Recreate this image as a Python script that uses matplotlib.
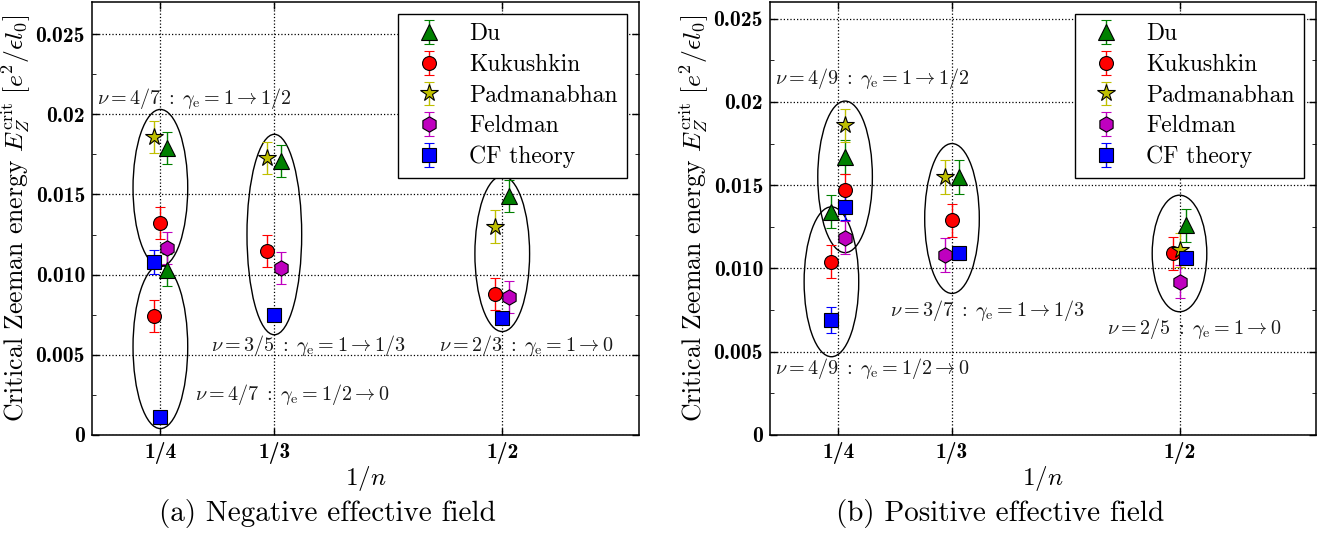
import matplotlib
matplotlib.use("Agg")
import matplotlib.pyplot as plt
from matplotlib.patches import Ellipse
import numpy as np

plt.rcParams['font.family'] = 'serif'
plt.rcParams['font.serif'] = ['cmr10']
plt.rcParams['mathtext.fontset'] = 'cm'
plt.rcParams['axes.unicode_minus'] = False

# ---- data: (a) negative effective field ----
neg_du_x = [1/4, 1/4, 1/3, 1/2]
neg_du_dx = [0.005, 0.005, 0.005, 0.005]
neg_du_y = [0.0179, 0.0103, 0.0171, 0.0149]
neg_du_err = [0.001, 0.001, 0.001, 0.001]

neg_ku_x = [1/4, 1/4, 1/3, 1/2]
neg_ku_dx = [0.0, -0.005, -0.005, -0.005]
neg_ku_y = [0.0132, 0.0074, 0.0115, 0.0088]
neg_ku_err = [0.001, 0.001, 0.001, 0.001]

neg_pa_x = [1/4, 1/3, 1/2]
neg_pa_dx = [-0.005, -0.005, -0.005]
neg_pa_y = [0.0186, 0.0173, 0.0130]
neg_pa_err = [0.001, 0.001, 0.001]

neg_fe_x = [1/4, 1/3, 1/2]
neg_fe_dx = [0.005, 0.005, 0.005]
neg_fe_y = [0.01165, 0.0104, 0.0086]
neg_fe_err = [0.001, 0.001, 0.001]

neg_cf_x = [1/4, 1/4, 1/3, 1/2]
neg_cf_dx = [-0.005, 0.0, 0.0, 0.0]
neg_cf_y = [0.0108, 0.0011, 0.0075, 0.0073]
neg_cf_err = [0.00075, 0.0004, 0.0002, 0.0002]

# ---- data: (b) positive effective field ----
pos_du_x = [1/4, 1/4, 1/3, 1/2]
pos_du_dx = [0.005, -0.005, 0.005, 0.005]
pos_du_y = [0.0167, 0.0134, 0.0155, 0.0126]
pos_du_err = [0.001, 0.001, 0.001, 0.001]

pos_ku_x = [1/4, 1/4, 1/3, 1/2]
pos_ku_dx = [0.005, -0.005, 0.0, -0.005]
pos_ku_y = [0.0147, 0.0104, 0.0129, 0.0109]
pos_ku_err = [0.001, 0.001, 0.001, 0.001]

pos_pa_x = [1/4, 1/3, 1/2]
pos_pa_dx = [0.005, -0.005, 0.0]
pos_pa_y = [0.0186, 0.0155, 0.0111]
pos_pa_err = [0.001, 0.001, 0.001]

pos_fe_x = [1/4, 1/3, 1/2]
pos_fe_dx = [0.005, -0.005, 0.0]
pos_fe_y = [0.01185, 0.0108, 0.0092]
pos_fe_err = [0.001, 0.001, 0.001]

pos_cf_x = [1/4, 1/4, 1/3, 1/2]
pos_cf_dx = [0.005, -0.005, 0.005, 0.005]
pos_cf_y = [0.0137, 0.0069, 0.0109, 0.0106]
pos_cf_err = [0.0008, 0.0008, 0.0004, 0.0003]

# ellipses (x, y, w, h) and notes
neg_ellipses = [(0.25, 0.0154, 0.04, 0.0098), (0.25, 0.0055, 0.04, 0.0102),
                (1/3, 0.0125, 0.04, 0.0125), (0.5, 0.0113, 0.04, 0.0097)]
pos_ellipses = [(0.255, 0.0155, 0.04, 0.0091), (0.245, 0.0092, 0.04, 0.0090),
                (1/3, 0.0130, 0.04, 0.0090), (0.5, 0.0109, 0.04, 0.0070)]

neg_notes = [(0.204, 0.0210, r'$\nu=4/7\;:\;\gamma_{\rm e}=1\rightarrow 1/2$'),
             (0.287, 0.0056, r'$\nu=3/5\;:\;\gamma_{\rm e}=1\rightarrow 1/3$'),
             (0.454, 0.0056, r'$\nu=2/3\;:\;\gamma_{\rm e}=1\rightarrow 0$'),
             (0.275, 0.0025, r'$\nu=4/7\;:\;\gamma_{\rm e}=1/2\rightarrow 0$')]
pos_notes = [(0.204, 0.0214, r'$\nu=4/9\;:\;\gamma_{\rm e}=1\rightarrow 1/2$'),
             (0.204, 0.0040, r'$\nu=4/9\;:\;\gamma_{\rm e}=1/2\rightarrow 0$'),
             (0.288, 0.0075, r'$\nu=3/7\;:\;\gamma_{\rm e}=1\rightarrow 1/3$'),
             (0.447, 0.0064, r'$\nu=2/5\;:\;\gamma_{\rm e}=1\rightarrow 0$')]

names = ['Du', 'Kukushkin', 'Padmanabhan', 'Feldman', 'CF theory']
markers = ['^', 'o', '*', 'h', 's']
colors = ['g', 'r', 'y', 'm', 'b']
msizes = [11, 10, 13, 11, 9.5]

xticks = [1/4, 1/3, 1/2]
xticklabels = ['1/4', '1/3', '1/2']
yticks = [0, 0.005, 0.010, 0.015, 0.02, 0.025]
yticklabels = ['0', '0.005', '0.010', '0.015', '0.02', '0.025']


def draw_panel(ax, series, ellipses, notes, ymax):
    for (x, dx, y, err), name, mk, c, ms in zip(series, names, markers, colors, msizes):
        ax.errorbar(np.array(x) + np.array(dx), y, yerr=err, fmt=mk, color=c,
                    mfc=c, mec='k', mew=0.8, ms=ms, ecolor=c, elinewidth=1,
                    capsize=3.5, capthick=1, label=name, zorder=3)
    for ex, ey, ew, eh in ellipses:
        ax.add_patch(Ellipse((ex, ey), ew, eh, fill=False, ec='k', lw=1, zorder=2))
    for tx, ty, s in notes:
        ax.text(tx, ty, s, fontsize=14.5, color='0.1', va='center', ha='left')
    ax.set_xlim(0.2, 0.6)
    ax.set_ylim(0, ymax)
    ax.set_xticks(xticks)
    ax.set_xticklabels(xticklabels, fontsize=15.5, family='cmb10')
    ax.set_yticks(yticks)
    ax.set_yticklabels(yticklabels, fontsize=15.5, family='cmb10')
    ax.set_yticks(np.arange(0.0025, ymax, 0.005), minor=True)
    ax.tick_params(direction='in', top=True, right=True, length=5, width=1, pad=5)
    ax.tick_params(which='minor', direction='in', right=True, length=3)
    ax.grid(True, linestyle=':', color='k', lw=0.9)
    ax.set_axisbelow(True)
    for sp in ax.spines.values():
        sp.set_linewidth(1.1)
    ax.set_xlabel(r'$\mathbf{1}/n$', fontsize=18, labelpad=0)
    ax.set_ylabel(r'Critical Zeeman energy $E_Z^{\rm crit}\ [e^2/\epsilon l_0]$', fontsize=18.5)
    ax.yaxis.set_label_coords(-0.108, 0.5)
    leg = ax.legend(loc='upper right', numpoints=1, fontsize=17, handlelength=1.8,
                    labelspacing=0.36, fancybox=False, framealpha=1, borderaxespad=0.5)
    leg.get_frame().set_edgecolor('k')
    leg.get_frame().set_linewidth(1)


fig = plt.figure(figsize=(13.35, 5.34), dpi=100)
ax1 = fig.add_axes([92/1335, 99/534, 547/1335, 433/534])
ax2 = fig.add_axes([770/1335, 99/534, 546/1335, 433/534])

neg_series = [(neg_du_x, neg_du_dx, neg_du_y, neg_du_err),
              (neg_ku_x, neg_ku_dx, neg_ku_y, neg_ku_err),
              (neg_pa_x, neg_pa_dx, neg_pa_y, neg_pa_err),
              (neg_fe_x, neg_fe_dx, neg_fe_y, neg_fe_err),
              (neg_cf_x, neg_cf_dx, neg_cf_y, neg_cf_err)]
pos_series = [(pos_du_x, pos_du_dx, pos_du_y, pos_du_err),
              (pos_ku_x, pos_ku_dx, pos_ku_y, pos_ku_err),
              (pos_pa_x, pos_pa_dx, pos_pa_y, pos_pa_err),
              (pos_fe_x, pos_fe_dx, pos_fe_y, pos_fe_err),
              (pos_cf_x, pos_cf_dx, pos_cf_y, pos_cf_err)]

draw_panel(ax1, neg_series, neg_ellipses, neg_notes, 0.027)
draw_panel(ax2, pos_series, pos_ellipses, pos_notes, 0.026)

fig.text(327/1335, 1 - 513/534, '(a) Negative effective field', fontsize=21,
         ha='center', va='center')
fig.text(1000/1335, 1 - 513/534, '(b) Positive effective field', fontsize=21,
         ha='center', va='center')

fig.savefig('out.png', dpi=100)
